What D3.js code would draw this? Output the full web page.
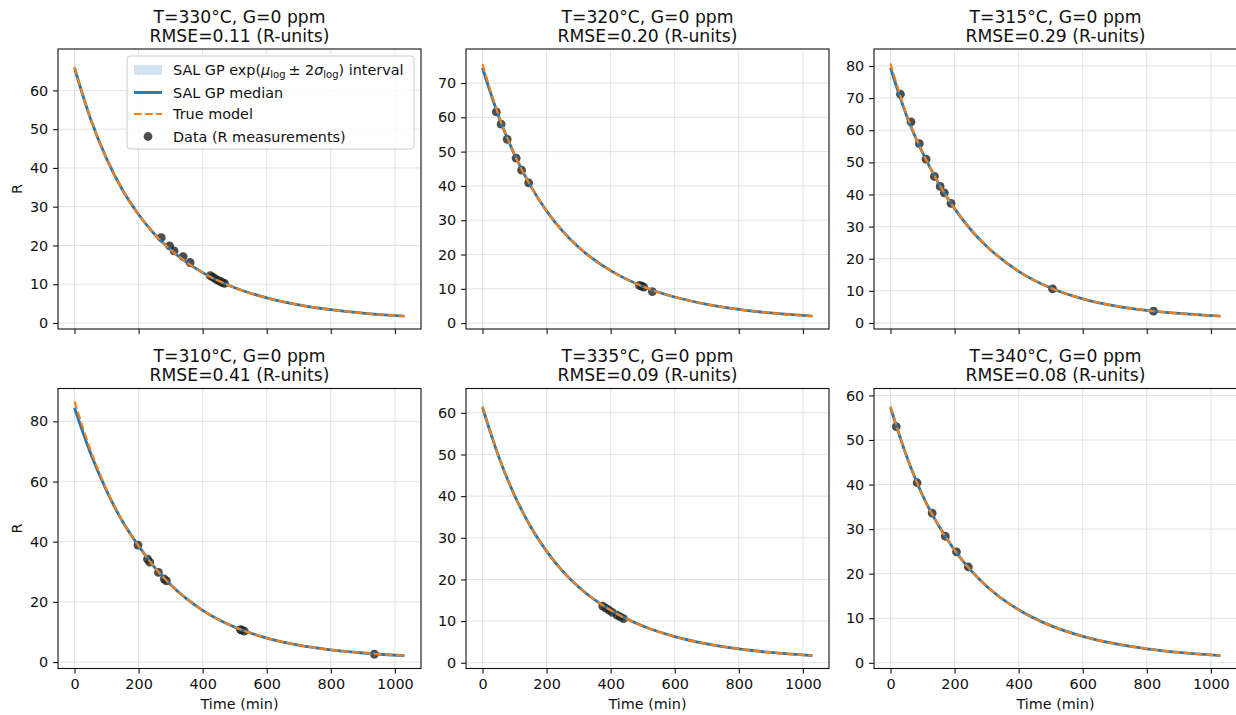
<!DOCTYPE html>
<html>
<head>
<meta charset="utf-8">
<script src="https://cdn.jsdelivr.net/npm/d3@7"></script>
<style>
  body { margin: 0; background: #fff; }
  text { font-family: "DejaVu Sans", sans-serif; fill: #111; }
</style>
</head>
<body>
<svg id="fig" width="1236" height="715"></svg>
<script>
// sample times for the model curves (min)
const times = [0, 50, 100, 150, 200, 250, 300, 400, 500, 600, 700, 800, 900, 1030]

const temps = [330, 320, 315, 310, 335, 340]
const rmse = ["0.11", "0.20", "0.29", "0.41", "0.09", "0.08"]

// true model R(t), one row per panel
const trueR = [
  [66.0, 52.8, 42.4, 34.3, 28.0, 22.9, 18.9, 13.0, 9.1, 6.48, 4.68, 3.43, 2.55, 1.76],
  [75.5, 60.7, 49.1, 40.0, 32.7, 26.8, 22.1, 15.3, 10.7, 7.61, 5.49, 4.00, 2.96, 2.03],
  [80.8, 65.0, 53.1, 43.5, 35.6, 29.1, 23.9, 16.05, 10.87, 7.51, 5.35, 3.92, 2.96, 2.11],
  [86.7, 70.5, 57.4, 46.8, 38.6, 31.5, 25.7, 17.2, 11.6, 7.97, 5.62, 4.06, 3.01, 2.12],
  [61.5, 49.6, 40.2, 32.7, 26.8, 22.0, 18.2, 12.6, 8.83, 6.29, 4.54, 3.33, 2.48, 1.70],
  [57.5, 46.4, 37.6, 30.8, 25.3, 20.8, 17.2, 11.9, 8.34, 5.94, 4.29, 3.15, 2.34, 1.61]
]

// SAL GP median
const medianR = [
  [65.8, 52.7, 42.4, 34.3, 28.0, 22.9, 18.9, 13.0, 9.1, 6.48, 4.68, 3.43, 2.55, 1.76],
  [74.4, 60.4, 49.1, 40.0, 32.7, 26.8, 22.1, 15.3, 10.7, 7.61, 5.49, 4.00, 2.96, 2.03],
  [79.4, 64.6, 53.0, 43.5, 35.6, 29.1, 23.9, 16.05, 10.87, 7.51, 5.35, 3.92, 2.96, 2.11],
  [84.5, 69.4, 57.0, 46.7, 38.6, 31.5, 25.7, 17.2, 11.6, 7.97, 5.62, 4.06, 3.01, 2.12],
  [61.3, 49.6, 40.2, 32.7, 26.8, 22.0, 18.2, 12.6, 8.83, 6.29, 4.54, 3.33, 2.48, 1.70],
  [57.3, 46.4, 37.6, 30.8, 25.3, 20.8, 17.2, 11.9, 8.34, 5.94, 4.29, 3.15, 2.34, 1.61]
]

// log-space sigma of the GP along the curve
const sigmaLog = [0.012, 0.008, 0.006, 0.005, 0.005, 0.005, 0.005, 0.005, 0.005, 0.005, 0.006, 0.006, 0.007, 0.008]

// measurements
const dataT = [
  [271, 297, 311, 339, 361, 424, 432, 440, 448, 455, 462, 468],
  [43, 58, 77, 105, 122, 144, 490, 497, 503, 530],
  [31, 64, 90, 111, 137, 155, 168, 189, 506, 821],
  [198, 228, 235, 262, 280, 287, 518, 522, 530, 936],
  [375, 385, 395, 405, 420, 430, 440],
  [18, 83, 130, 171, 206, 243]
]
const dataR = [
  [22.0, 19.9, 18.6, 17.1, 15.6, 12.2, 11.8, 11.4, 11.0, 10.7, 10.4, 10.2],
  [61.6, 58.0, 53.6, 48.1, 44.6, 40.9, 11.0, 10.8, 10.5, 9.2],
  [71.2, 62.6, 55.8, 51.0, 45.6, 42.5, 40.5, 37.2, 10.6, 3.65],
  [38.9, 34.2, 33.2, 29.8, 27.6, 27.0, 10.8, 10.6, 10.3, 2.6],
  [13.6, 13.1, 12.6, 12.1, 11.4, 11.0, 10.6],
  [53.0, 40.4, 33.6, 28.4, 24.9, 21.5]
]

const yTicks = [
  [0, 10, 20, 30, 40, 50, 60],
  [0, 10, 20, 30, 40, 50, 60, 70],
  [0, 10, 20, 30, 40, 50, 60, 70, 80],
  [0, 20, 40, 60, 80],
  [0, 10, 20, 30, 40, 50, 60],
  [0, 10, 20, 30, 40, 50, 60]
]
const xTicks = [0, 200, 400, 600, 800, 1000]

const blue = '#1f77b4', orange = '#ff7f0e'
const svg = d3.select('#fig')

const panelW = 363
const colX = [58, 466, 874]
const rowY = [49, 388.5]
const rowH = [280, 280]
const fs = '14.4px'

const x = d3.scaleLinear()
  .domain([-0.05 * 1030, 1.05 * 1030])
  .range([0, panelW])

temps.forEach((T, i) => {
  const col = i % 3, row = Math.floor(i / 3)
  const h = rowH[row]
  const g = svg.append('g').attr('transform', `translate(${colX[col]},${rowY[row]})`)

  const lo = medianR[i].map((m, k) => m * Math.exp(-2 * sigmaLog[k]))
  const hi = medianR[i].map((m, k) => m * Math.exp(2 * sigmaLog[k]))
  const all = trueR[i].concat(medianR[i], dataR[i], lo, hi)
  const [mn, mx] = d3.extent(all)
  const pad = 0.05 * (mx - mn)
  const y = d3.scaleLinear().domain([mn - pad, mx + pad]).range([h, 0])

  // grid
  g.selectAll('.gx').data(xTicks).enter().append('line')
    .attr('x1', d => x(d)).attr('x2', d => x(d))
    .attr('y1', 0).attr('y2', h)
    .attr('stroke', '#b0b0b0').attr('stroke-opacity', 0.35).attr('stroke-width', 1)
  g.selectAll('.gy').data(yTicks[i]).enter().append('line')
    .attr('x1', 0).attr('x2', panelW)
    .attr('y1', d => y(d)).attr('y2', d => y(d))
    .attr('stroke', '#b0b0b0').attr('stroke-opacity', 0.35).attr('stroke-width', 1)

  // interval band
  const pts = times.map((t, k) => ({ t, lo: lo[k], hi: hi[k], m: medianR[i][k], tr: trueR[i][k] }))
  g.append('path').datum(pts)
    .attr('fill', blue).attr('fill-opacity', 0.2)
    .attr('d', d3.area().x(d => x(d.t)).y0(d => y(d.lo)).y1(d => y(d.hi)).curve(d3.curveMonotoneX))

  // data points (under the lines)
  g.selectAll('circle').data(dataT[i].map((t, k) => ({ t, r: dataR[i][k] }))).enter().append('circle')
    .attr('cx', d => x(d.t)).attr('cy', d => y(d.r)).attr('r', 4.4)
    .attr('fill', '#222').attr('fill-opacity', 0.8)

  g.append('path').datum(pts)
    .attr('fill', 'none').attr('stroke', blue).attr('stroke-width', 2.8)
    .attr('d', d3.line().x(d => x(d.t)).y(d => y(d.m)).curve(d3.curveMonotoneX))
  g.append('path').datum(pts)
    .attr('fill', 'none').attr('stroke', orange).attr('stroke-width', 2.1)
    .attr('stroke-dasharray', '7.7,3.3')
    .attr('d', d3.line().x(d => x(d.t)).y(d => y(d.tr)).curve(d3.curveMonotoneX))

  // axes
  const ya = g.append('g').call(d3.axisLeft(y).tickValues(yTicks[i]).tickSize(4.9).tickPadding(4.9).tickFormat(d3.format('d')))
  const xa = g.append('g').attr('transform', `translate(0,${h})`)
    .call(d3.axisBottom(x).tickValues(xTicks).tickSize(4.9).tickPadding(4.9).tickFormat(row === 1 ? d3.format('d') : ''))
  ;[ya, xa].forEach(a => {
    a.select('.domain').remove()
    a.selectAll('line').attr('stroke', '#111').attr('stroke-width', 1.1)
    a.selectAll('text').attr('font-size', fs).attr('fill', '#111')
  })

  g.append('rect').attr('width', panelW).attr('height', h)
    .attr('fill', 'none').attr('stroke', '#111').attr('stroke-width', 1.1)

  // titles
  g.append('text').attr('x', panelW / 2).attr('y', -26.5).attr('text-anchor', 'middle')
    .attr('font-size', '17.2px').text(`T=${T}°C, G=0 ppm`)
  g.append('text').attr('x', panelW / 2).attr('y', -7.5).attr('text-anchor', 'middle')
    .attr('font-size', '17.2px').text(`RMSE=${rmse[i]} (R-units)`)

  if (col === 0) {
    g.append('text').attr('transform', `translate(-36,${h / 2}) rotate(-90)`)
      .attr('text-anchor', 'middle').attr('font-size', fs).text('R')
  }
  if (row === 1) {
    g.append('text').attr('x', panelW / 2).attr('y', h + 40).attr('text-anchor', 'middle')
      .attr('font-size', fs).text('Time (min)')
  }

  // legend in the first panel
  if (i === 0) {
    const lg = g.append('g').attr('transform', `translate(${panelW - 294},7)`)
    lg.append('rect').attr('width', 287).attr('height', 93).attr('rx', 3)
      .attr('fill', '#fff').attr('fill-opacity', 0.8).attr('stroke', '#ccc')
    const rowsY = [14, 36.5, 58, 80.5]
    lg.append('rect').attr('x', 7).attr('y', rowsY[0] - 5).attr('width', 28).attr('height', 10)
      .attr('fill', blue).attr('fill-opacity', 0.2)
    lg.append('line').attr('x1', 7).attr('x2', 35).attr('y1', rowsY[1]).attr('y2', rowsY[1])
      .attr('stroke', blue).attr('stroke-width', 2.8)
    lg.append('line').attr('x1', 7).attr('x2', 35).attr('y1', rowsY[2]).attr('y2', rowsY[2])
      .attr('stroke', orange).attr('stroke-width', 2.1).attr('stroke-dasharray', '7.7,3.3')
    lg.append('circle').attr('cx', 21).attr('cy', rowsY[3]).attr('r', 4.4)
      .attr('fill', '#222').attr('fill-opacity', 0.8)

    const t0 = lg.append('text').attr('x', 46).attr('y', rowsY[0] + 5).attr('font-size', fs)
    t0.append('tspan').text('SAL GP exp(')
    t0.append('tspan').attr('font-style', 'italic').text('μ')
    t0.append('tspan').attr('font-size', '10px').attr('dy', 3).text('log')
    t0.append('tspan').attr('dy', -3).text('\u2009± 2')
    t0.append('tspan').attr('font-style', 'italic').text('σ')
    t0.append('tspan').attr('font-size', '10px').attr('dy', 3).text('log')
    t0.append('tspan').attr('dy', -3).text(') interval')
    const labels = ['SAL GP median', 'True model', 'Data (R measurements)']
    labels.forEach((s, k) => {
      lg.append('text').attr('x', 46).attr('y', rowsY[k + 1] + 5).attr('font-size', fs).text(s)
    })
  }
})
</script>
</body>
</html>
